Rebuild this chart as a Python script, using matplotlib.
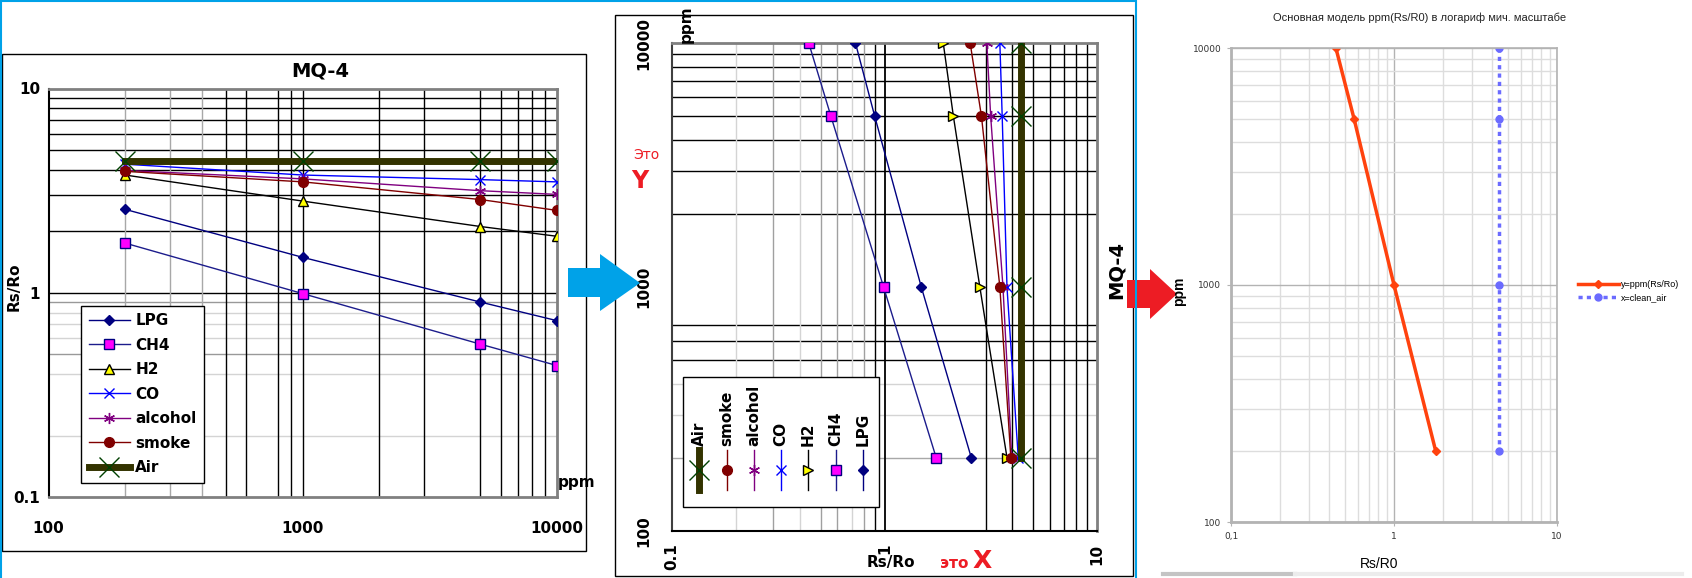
import matplotlib
matplotlib.use('Agg')
import matplotlib.pyplot as plt
from matplotlib.patches import Polygon, Rectangle
from matplotlib.lines import Line2D
from matplotlib.ticker import NullLocator

# --- data ---
ppm = [200, 1000, 5000, 10000]
lpg = [2.56, 1.49, 0.90, 0.73]
ch4 = [1.75, 0.99, 0.56, 0.44]
h2 = [3.77, 2.81, 2.11, 1.89]
co = [4.26, 3.77, 3.58, 3.49]
alcohol = [3.97, 3.61, 3.16, 3.03]
smoke = [3.93, 3.49, 2.86, 2.53]
air = [4.4, 4.4, 4.4, 4.4]

names = ['LPG', 'CH4', 'H2', 'CO', 'alcohol', 'smoke', 'Air']
series = [lpg, ch4, h2, co, alcohol, smoke, air]

# model on the right
model_rs = [0.44, 0.57, 1.0, 1.8]
model_ppm = [10000, 5000, 1000, 200]
clean_air_rs = [4.4, 4.4, 4.4, 4.4]

styles = {
    'LPG': dict(color='#000080', marker='D', ms=5, mfc='#000080', mec='#000080', lw=1),
    'CH4': dict(color='#1c1c8c', marker='s', ms=7, mfc='#ff00ff', mec='#000080', lw=1),
    'H2': dict(color='black', marker='^', ms=7, mfc='#ffff00', mec='black', lw=1),
    'CO': dict(color='#0000ff', marker='x', ms=7, mec='#0000ff', lw=1),
    'alcohol': dict(color='#800080', marker=(6, 2, 0), ms=8, mec='#800080', lw=1),
    'smoke': dict(color='#800000', marker='o', ms=7, mfc='#800000', mec='#800000', lw=1),
    'Air': dict(color='#333300', marker='x', ms=14, mec='#004000', mew=1, lw=5),
}

W, H = 1692, 578


def px(x, y):
    return x / W, 1 - y / H


def box(x0, y0, x1, y1):
    return [x0 / W, 1 - y1 / H, (x1 - x0) / W, (y1 - y0) / H]


fig = plt.figure(figsize=(W / 100, H / 100), dpi=100)
bold = dict(fontweight='bold', family='DejaVu Sans')

# ============ left: original datasheet ============
ax1 = fig.add_axes(box(48.6, 88.5, 557, 497))
ax1.set_xscale('log')
ax1.set_yscale('log')
ax1.set_xlim(100, 10000)
ax1.set_ylim(0.1, 10)

for v in [2, 3, 4, 5, 6, 7, 8, 9, 1]:
    ax1.axhline(v, color='black', lw=1, zorder=1)
for v in [0.9, 0.5]:
    ax1.axhline(v, color='#999999', lw=1, zorder=1)
for v in [0.8, 0.7, 0.6, 0.4, 0.2]:
    ax1.axhline(v, color='#d4d4d4', lw=1, zorder=1)
for v in [200, 300, 400]:
    ax1.axvline(v, color='#a8a8a8', lw=1, zorder=1)
for v in [500, 600, 800, 900, 1000, 2000, 3000, 5000, 6000, 7000, 8000, 9000]:
    ax1.axvline(v, color='black', lw=1, zorder=1)

for name, vals in zip(names, series):
    ax1.plot(ppm, vals, label=name, zorder=3, **styles[name])

ax1.set_xticks([100, 1000, 10000])
ax1.set_xticklabels(['100', '1000', '10000'], **bold, fontsize=11)
ax1.set_yticks([0.1, 1, 10])
ax1.set_yticklabels(['0.1', '1', '10'], **bold, fontsize=11)
ax1.xaxis.set_minor_locator(NullLocator())
ax1.yaxis.set_minor_locator(NullLocator())
ax1.tick_params(length=0)
ax1.tick_params(axis='x', pad=17)
ax1.tick_params(axis='y', pad=6)
for s in ['top', 'right', 'bottom']:
    ax1.spines[s].set_color('#808080')
    ax1.spines[s].set_linewidth(2)
ax1.spines['left'].set_color('black')
ax1.spines['left'].set_linewidth(1.5)

leg = ax1.legend(loc='upper left', bbox_to_anchor=(0.049, 0.487), frameon=True,
                 fancybox=False, framealpha=1, edgecolor='black',
                 prop=dict(weight='bold', size=11), handlelength=2.7,
                 labelspacing=0.62, borderpad=0.5, handletextpad=0.35)
leg.get_frame().set_linewidth(1)

fig.text(*px(320, 71), 'MQ-4', ha='center', va='center', fontsize=14, **bold)
fig.text(*px(14, 287), 'Rs/Ro', ha='center', va='center', rotation=90, fontsize=11, **bold)
fig.text(*px(577, 482), 'ppm', ha='center', va='center', fontsize=11, **bold)

# ============ middle: transposed copy ============
ax2 = fig.add_axes(box(672, 43, 1097, 531))
ax2.set_xscale('log')
ax2.set_yscale('log')
ax2.set_xlim(0.1, 10)
ax2.set_ylim(100, 10000)

for v in [9000, 8000, 7000, 6000, 5000, 4000, 3000, 2000, 700, 600, 500]:
    ax2.axhline(v, color='black', lw=1, zorder=1)
for v in [400, 300]:
    ax2.axhline(v, color='#d4d4d4', lw=1, zorder=1)
ax2.axhline(200, color='#a8a8a8', lw=1, zorder=1)
for v in [0.9, 1, 3, 4, 5, 6, 7, 8, 9]:
    ax2.axvline(v, color='black', lw=1.3 if v == 1 else 1, zorder=1)
for v in [0.3, 0.5, 0.6, 0.8]:
    ax2.axvline(v, color='#a0a0a0', lw=1, zorder=1)
for v in [0.2, 0.4, 0.7]:
    ax2.axvline(v, color='#d4d4d4', lw=1, zorder=1)

for name, vals in zip(names, series):
    st = dict(styles[name])
    if name == 'H2':
        st['marker'] = '>'
    ax2.plot(vals, ppm, zorder=3, **st)

ax2.set_xticks([0.1, 1, 10])
ax2.set_xticklabels(['0.1', '1', '10'], rotation=90, **bold, fontsize=11)
ax2.set_yticks([100, 1000, 10000])
ax2.set_yticklabels(['100', '1000', '10000'], rotation=90, va='center', **bold, fontsize=11)
ax2.xaxis.set_minor_locator(NullLocator())
ax2.yaxis.set_minor_locator(NullLocator())
ax2.tick_params(length=0)
ax2.tick_params(axis='x', pad=9)
ax2.tick_params(axis='y', pad=15)
for s in ['top', 'right']:
    ax2.spines[s].set_color('#808080')
    ax2.spines[s].set_linewidth(2)
ax2.spines['left'].set_color('#404040')
ax2.spines['left'].set_linewidth(1.5)
ax2.spines['bottom'].set_color('black')
ax2.spines['bottom'].set_linewidth(1.5)

# rotated legend drawn by hand
lx0, lx1, ly0, ly1 = 683, 879, 377, 507
ax2.add_patch(Rectangle(((lx0 - 672) / 425, (531 - ly1) / 488), (lx1 - lx0) / 425,
                        (ly1 - ly0) / 488, transform=ax2.transAxes, facecolor='white',
                        edgecolor='black', lw=1, zorder=5))
leg_order = ['Air', 'smoke', 'alcohol', 'CO', 'H2', 'CH4', 'LPG']
leg_cols = [699, 727, 754, 781, 808, 836, 863]
for name, cx in zip(leg_order, leg_cols):
    st = dict(styles[name])
    if name == 'H2':
        st['marker'] = '>'
    fx = (cx - 672) / 425
    ln = Line2D([fx, fx, fx], [(531 - 490) / 488, (531 - 470) / 488, (531 - 450) / 488],
                transform=ax2.transAxes, markevery=[1], zorder=6, **st)
    ax2.add_line(ln)
    ax2.text(fx, (531 - 446) / 488, name, transform=ax2.transAxes, rotation=90,
             ha='center', va='bottom', fontsize=11, zorder=6, **bold)

fig.text(*px(686, 24), 'ppm', ha='center', va='center', rotation=90, fontsize=11, **bold)
fig.text(*px(891, 563), 'Rs/Ro', ha='center', va='center', fontsize=11, **bold)
fig.text(*px(1116, 270), 'MQ-4', ha='center', va='center', rotation=90, fontsize=14, **bold)
fig.text(*px(646, 155), 'Это', ha='center', va='center', fontsize=10, color='#ed1c24')
fig.text(*px(640, 181), 'Y', ha='center', va='center', fontsize=17, color='#ed1c24', **bold)
fig.text(*px(954, 563), 'это', ha='center', va='center', fontsize=11, color='#ed1c24', **bold)
fig.text(*px(982, 561), 'X', ha='center', va='center', fontsize=18, color='#ed1c24', **bold)

# ============ right: model ============
ax3 = fig.add_axes(box(1231, 48, 1557, 522))
ax3.set_xscale('log')
ax3.set_yscale('log')
ax3.set_xlim(0.1, 10)
ax3.set_ylim(100, 10000)
ax3.grid(True, which='minor', color='#dddddd', lw=1)
ax3.grid(True, which='major', color='#b3b3b3', lw=1)
ax3.set_axisbelow(True)

ax3.plot(model_rs, model_ppm, color='#ff420e', lw=2.5, marker='D', ms=4,
         label='y=ppm(Rs/Ro)')
ax3.plot(clean_air_rs, model_ppm, color='#6b6bff', lw=2.5, ls=(0, (1.2, 1.2)),
         marker='o', ms=5, label='x=clean_air')

ax3.set_xticks([0.1, 1, 10])
ax3.set_xticklabels(['0,1', '1', '10'])
ax3.set_yticks([100, 1000, 10000])
ax3.set_yticklabels(['100', '1000', '10000'])
ax3.tick_params(which='major', labelsize=6.5, labelcolor='#333333', length=3, color='#b3b3b3')
ax3.tick_params(which='minor', length=0)
ax3.tick_params(axis='y', pad=4)
ax3.tick_params(axis='x', pad=4)
for s in ['left', 'bottom']:
    ax3.spines[s].set_color('#b3b3b3')
    ax3.spines[s].set_linewidth(2)
for s in ['top', 'right']:
    ax3.spines[s].set_color('#b3b3b3')
    ax3.spines[s].set_linewidth(1.2)

ax3.legend(loc='center left', bbox_to_anchor=px(1570, 291), bbox_transform=fig.transFigure,
           frameon=False, fontsize=6.5, handlelength=4.5, handletextpad=0.2,
           labelspacing=0.5, prop=dict(family='Liberation Sans', size=6.5))

fig.text(*px(1420, 18), 'Основная модель ppm(Rs/R0) в логариф мич. масштабе',
         ha='center', va='center', fontsize=8, family='Liberation Sans', color='#222222')
fig.text(*px(1179, 291), 'ppm', ha='center', va='center', rotation=90, fontsize=10,
         fontweight='bold', family='Liberation Sans')
fig.text(*px(1379, 564), 'Rs/R0', ha='center', va='center', fontsize=10,
         family='Liberation Sans')

# ============ frames and arrows ============
fig.add_artist(Rectangle(px(2, 551), 584 / W, 497 / H, transform=fig.transFigure,
                         fill=False, edgecolor='black', lw=1))
fig.add_artist(Rectangle(px(615, 576), 518 / W, 561 / H, transform=fig.transFigure,
                         fill=False, edgecolor='black', lw=1))
cyan = '#00a2e8'
for (xa, ya), (xb, yb) in [((0, 0.7), (1135, 0.7)), ((0.7, 0), (0.7, 578)),
                           ((1135.5, 0), (1135.5, 578))]:
    fig.add_artist(Line2D([xa / W, xb / W], [1 - ya / H, 1 - yb / H],
                          transform=fig.transFigure, color=cyan, lw=1.5))
fig.add_artist(Line2D([1163 / W, 1295 / W], [1 - 574 / H] * 2, transform=fig.transFigure,
                      color='#c4c4c4', lw=3))
fig.add_artist(Line2D([1295 / W, 1682 / W], [1 - 574 / H] * 2, transform=fig.transFigure,
                      color='#ececec', lw=3))

blue_arrow = [(568, 268), (600, 268), (600, 254), (640, 283), (600, 311), (600, 297), (568, 297)]
red_arrow = [(1127, 280), (1150, 280), (1150, 269), (1177, 294), (1150, 319), (1150, 308), (1127, 308)]
fig.add_artist(Polygon([px(x, y) for x, y in blue_arrow], closed=True,
                       transform=fig.transFigure, color=cyan, lw=0))
fig.add_artist(Polygon([px(x, y) for x, y in red_arrow], closed=True,
                       transform=fig.transFigure, color='#ed1c24', lw=0))

fig.savefig('out.png', dpi=100)
